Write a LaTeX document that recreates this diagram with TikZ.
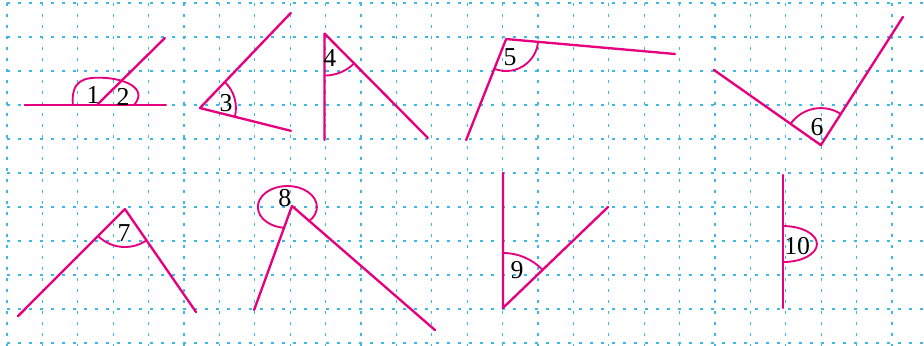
\documentclass[tikz,border=0pt]{standalone}
\usepackage{fontspec}
\setmainfont{Liberation Serif}
\definecolor{rayPink}{RGB}{230,0,126}
\definecolor{gridCyan}{RGB}{60,185,232}

\begin{document}
\begin{tikzpicture}[line cap=round,line join=round,x=1.062cm,y=1.02cm,
  gridline/.style={color=gridCyan,line width=0.9pt,line cap=butt,dash pattern=on 0.08cm off 0.25cm},
  ray/.style={color=rayPink,line width=2pt},
  anglearc/.style={color=rayPink,line width=1.6pt},
  lbl/.style={font=\fontsize{22}{22}\selectfont,inner sep=0pt}]
\useasboundingbox (-0.198,-0.088) rectangle (25.904,10.088);
\foreach \x in {0,...,25}
\draw[gridline] (\x,10) -- (\x,-0.088);
\foreach \y in {0,...,10}
\draw[gridline] (0,\y) -- (25.904,\y);
% angles 1 and 2
\draw[ray] (0.5,7) -- (4.49,7);
\draw[ray] (2.54,7) -- (4.46,8.97);
\draw[anglearc] (1.86,7) .. controls (1.80,7.75) and (2.2,7.82) .. (2.7,7.8) .. controls (3.3,7.78) and (4.0,7.5) .. (3.59,7);
\node[lbl] (n1) at (2.43,7.29) {1};
\node[lbl] (n2) at (3.28,7.24) {2};
% angle 3
\coordinate (v3) at (5.45,6.91);
\draw[ray] (8.02,9.71) -- (v3) -- (8.02,6.24);
\draw[anglearc] ([shift={(46.2:1.08cm)}]v3) arc[start angle=46.2,end angle=-14.2,radius=1.08cm];
\node[lbl] (n3) at (6.19,7.06) {3};
% angle 4
\coordinate (v4) at (8.97,9.1);
\draw[ray] (8.97,5.97) -- (v4) -- (11.89,6.03);
\draw[anglearc] ([shift={(-90:1.26cm)}]v4) arc[start angle=-90,end angle=-45,radius=1.26cm];
\node[lbl] (n4) at (9.12,8.38) {4};
% angle 5
\coordinate (v5) at (14.1,8.94);
\draw[ray] (12.97,5.97) -- (v5) -- (18.87,8.5);
\draw[anglearc] ([shift={(-111.6:0.96cm)}]v5) arc[start angle=-111.6,end angle=-5.1,radius=0.96cm];
\node[lbl] (n5) at (14.21,8.41) {5};
% angle 6
\coordinate (v6) at (22.99,5.82);
\draw[ray] (19.97,8.03) -- (v6) -- (25.31,9.59);
\draw[anglearc] ([shift={(145:1.11cm)}]v6) arc[start angle=145,end angle=57.4,radius=1.11cm];
\node[lbl] (n6) at (22.88,6.35) {6};
% angle 7
\coordinate (v7) at (3.33,3.94);
\draw[ray] (0.31,0.79) -- (v7) -- (5.34,0.91);
\draw[anglearc] ([shift={(-135:1.14cm)}]v7) arc[start angle=-135,end angle=-55.4,radius=1.14cm];
\node[lbl] (n7) at (3.31,3.24) {7};
% angle 8
\coordinate (v8) at (8.05,4.03);
\coordinate (c8) at (7.92,4.0);
\draw[ray] (6.98,0.97) -- (v8) -- (12.09,0.38);
\draw[anglearc] ([shift={(-43.8:0.885cm and 0.63cm)}]c8) arc[start angle=-43.8,end angle=264,x radius=0.885cm,y radius=0.63cm];
\node[lbl] (n8) at (7.85,4.26) {8};
% angle 9
\coordinate (v9) at (14.01,1.03);
\draw[ray] (14.01,5.0) -- (v9) -- (16.98,4.0);
\draw[anglearc] ([shift={(90:1.65cm)}]v9) arc[start angle=90,end angle=43.9,radius=1.65cm];
\node[lbl] (n9) at (14.41,2.15) {9};
% angle 10
\coordinate (c10) at (21.92,2.91);
\draw[ray] (21.92,4.94) -- (21.92,1.03);
\draw[anglearc] ([shift={(90:1.02cm and 0.54cm)}]c10) arc[start angle=90,end angle=-90,x radius=1.02cm,y radius=0.54cm];
\node[lbl] (n10) at (22.32,2.85) {10};
\end{tikzpicture}
\end{document}
